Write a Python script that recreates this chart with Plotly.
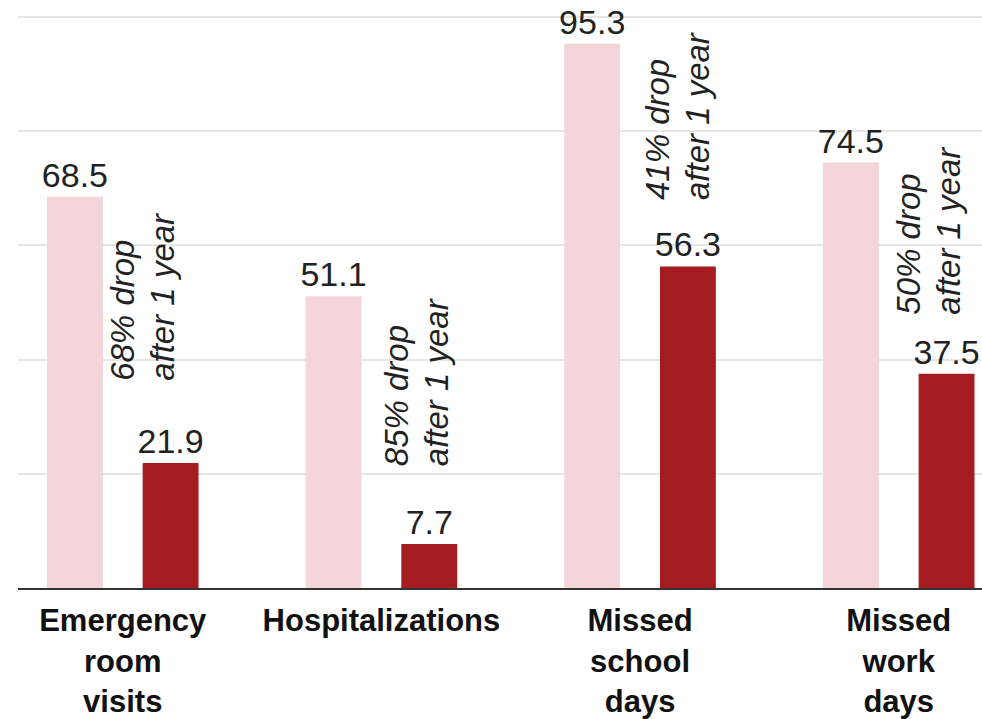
import plotly.graph_objects as go

categories = ["Emergency<br>room<br>visits", "Hospitalizations", "Missed<br>school<br>days", "Missed<br>work<br>days"]
before_values = [68.5, 51.1, 95.3, 74.5]
after_values = [21.9, 7.7, 56.3, 37.5]
drop_labels = [["68% drop", "after 1 year"], ["85% drop", "after 1 year"],
               ["41% drop", "after 1 year"], ["50% drop", "after 1 year"]]

# annotation placement (layout only): data-space anchor for each rotated note
note_x_offset = [0.078, 0.134, 0.143, 0.117]
note_y_bottom = [36.0, 20.9, 67.5, 47.6]

PINK = "#f3d5da"
RED = "#a51c20"
TXT = "#222222"
FONT = "Liberation Sans"

fig = go.Figure()
fig.add_trace(go.Bar(
    x=categories, y=before_values, marker_color=PINK, marker_line_width=0,
    text=[f"{v:.1f}" for v in before_values], textposition="outside",
    textfont=dict(family=FONT, size=34, color=TXT), cliponaxis=False,
    constraintext="none", showlegend=False, hoverinfo="skip"))
fig.add_trace(go.Bar(
    x=categories, y=after_values, marker_color=RED, marker_line_width=0,
    text=[f"{v:.1f}" for v in after_values], textposition="outside",
    textfont=dict(family=FONT, size=34, color=TXT), cliponaxis=False,
    constraintext="none", showlegend=False, hoverinfo="skip"))

annotations = []
for i, (lines, dx, yv) in enumerate(zip(drop_labels, note_x_offset, note_y_bottom)):
    for k, line in enumerate(lines):
        annotations.append(dict(
            x=i + dx, y=yv, xref="x", yref="y", text=f"<i>{line}</i>",
            textangle=-90, showarrow=False,
            xanchor="center", yanchor="bottom", xshift=(-20 if k == 0 else 20),
            font=dict(family=FONT, size=33, color=TXT)))

fig.update_layout(
    width=982, height=719,
    margin=dict(l=18, r=0, t=0, b=127),
    paper_bgcolor="white", plot_bgcolor="white",
    barmode="group", bargap=0.26, bargroupgap=0.416,
    annotations=annotations,
    xaxis=dict(type="category", range=[-0.405, 3.322], showgrid=False,
               showline=True, linecolor="#333333", linewidth=2,
               ticks="", tickfont=dict(family=FONT, size=31, color="#111111"),
               ticklabelstandoff=4,
               tickvals=categories, ticktext=[f"<b>{c}</b>" for c in categories]),
    yaxis=dict(range=[0, 102.96], tickvals=[20, 40, 60, 80, 100],
               showticklabels=False, gridcolor="#e6e6e6", gridwidth=2,
               zeroline=False, showline=False),
)

fig.write_html("out.html")
